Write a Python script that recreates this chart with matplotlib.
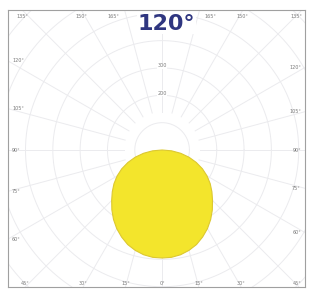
import numpy as np
import matplotlib.pyplot as plt

# luminous intensity distribution (cd) vs angle from nadir (deg)
angles = [0, 5, 10, 15, 20, 25, 30, 35, 40, 45, 50, 55, 60, 65, 70, 75, 80, 85, 90]
intensity = [395, 394, 389, 380, 368, 351, 332, 310, 286, 261, 238, 215, 190,
             163, 133, 102, 69, 35, 0]

ring_values = [100, 200, 300, 400, 500, 600, 700, 800]
ring_labels = [200, 300]
spoke_angles = np.arange(0, 360, 15)

top_labels = [135, 150, 165, 165, 150, 135]
side_labels = [120, 105, 90, 75, 60]
bottom_labels = [45, 30, 15, 0, 15, 30, 45]

title = "120°"

# box limits in cd units (origin = lamp)
xmin, xmax = -564, 523
ymin, ymax = -501, 512

fig = plt.figure(figsize=(3.10, 2.89), dpi=100)
ax = fig.add_axes([8 / 310, 2 / 289, 297 / 310, 277 / 289])
ax.set_xlim(xmin, xmax)
ax.set_ylim(ymin, ymax)
ax.set_xticks([])
ax.set_yticks([])
for s in ax.spines.values():
    s.set_color('#a0a0a0')
    s.set_linewidth(0.8)

grid_c = '#ebebee'
t = np.linspace(0, 2 * np.pi, 400)
for r in ring_values:
    ax.plot(r * np.cos(t), r * np.sin(t), color=grid_c, lw=0.7, zorder=1)
for a in spoke_angles:
    th = np.radians(a)
    ax.plot([140 * np.sin(th), 1200 * np.sin(th)],
            [-140 * np.cos(th), -1200 * np.cos(th)], color=grid_c, lw=0.7, zorder=1)

# distribution curve, mirrored for both halves
th = np.radians(angles)
I = np.array(intensity)
x = np.concatenate([-(I * np.sin(th))[::-1], (I * np.sin(th))[1:]])
y = np.concatenate([-(I * np.cos(th))[::-1], -(I * np.cos(th))[1:]])
ax.fill(x, y, facecolor='#f3e52c', edgecolor='#dcc830', lw=0.8, zorder=3)

lab = dict(fontsize=3.5, color='#7a7a7a', zorder=4)
# labels where rays meet the box (180° sits under the title)
for a, side in zip(top_labels, [-3, -2, -1, 1, 2, 3]):
    xx = np.sign(side) * ymax * np.tan(np.radians(15 * abs(side)))
    xx = np.clip(xx, xmin + 30, xmax - 30)
    if abs(side) == 1:
        xx += np.sign(side) * 40
    ax.text(xx, ymax - 25, f"{a}°", ha='center', va='center', **lab)
for a in side_labels:
    yy = -(-xmin) / np.tan(np.radians(a)) if a != 90 else 0
    ax.text(xmin + 15, yy, f"{a}°", ha='left', va='center', **lab)
    yy = -xmax / np.tan(np.radians(a)) if a != 90 else 0
    ax.text(xmax - 15, yy, f"{a}°", ha='right', va='center', **lab)
for a, side in zip(bottom_labels, [-3, -2, -1, 0, 1, 2, 3]):
    xx = np.sign(side) * (-ymin) * np.tan(np.radians(15 * abs(side)))
    xx = np.clip(xx, xmin + 30, xmax - 30)
    ax.text(xx, ymin + 12, f"{a}°", ha='center', va='center', **lab)

for r in ring_labels:
    ax.text(0, r + 8, str(r), ha='center', va='center',
            bbox=dict(facecolor='white', edgecolor='none', pad=0.3), **lab)

ax.text(15, 462, title, ha='center', va='center', fontsize=16, fontweight='bold',
        color='#2f3680', zorder=5,
        bbox=dict(facecolor='white', edgecolor='none', pad=0.5))

fig.savefig('out.png', dpi=100)
